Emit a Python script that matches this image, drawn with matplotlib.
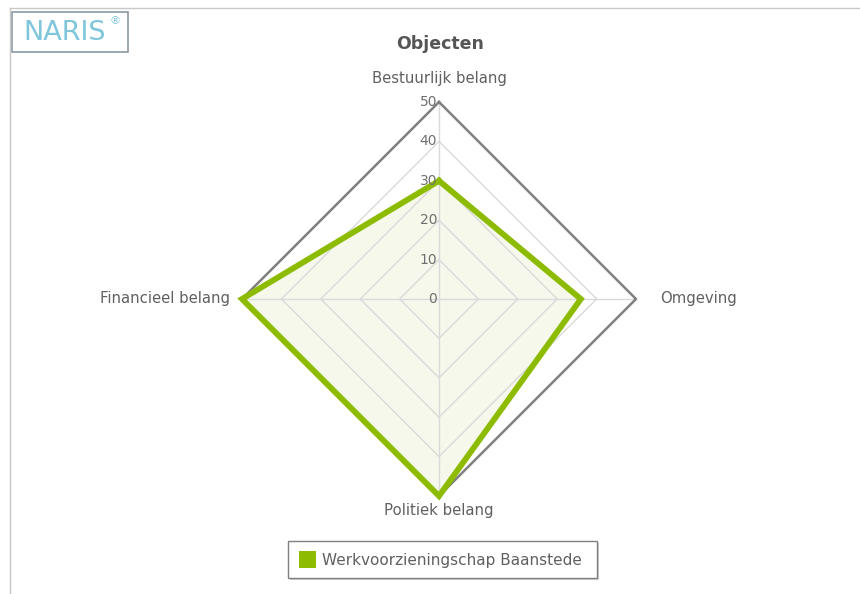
import numpy as np
import matplotlib
matplotlib.use("Agg")
import matplotlib.pyplot as plt
from matplotlib.patches import Rectangle
from matplotlib.lines import Line2D

# data
categories = ["Bestuurlijk belang", "Omgeving", "Politiek belang", "Financieel belang"]
values = [30, 36, 50, 50]
series_name = "Werkvoorzieningschap Baanstede"
ticks = [0, 10, 20, 30, 40, 50]
title = "Objecten"

W, H = 860, 594
fig = plt.figure(figsize=(W / 100, H / 100), dpi=100)
fig.patch.set_facecolor("white")

# outer frame lines (top and left)
fig.add_artist(Line2D([10 / W, 1], [1 - 8 / H, 1 - 8 / H], color="#c8c8c8", lw=1))
fig.add_artist(Line2D([10 / W, 10 / W], [0, 1 - 8 / H], color="#c8c8c8", lw=1))

# logo
fig.add_artist(Rectangle((12 / W, 1 - 52 / H), 116 / W, 40 / H, fill=False,
                         edgecolor="#8a9aa4", lw=1.2))
fig.text(23 / W, 1 - 33 / H, "NARIS", color="#7fc6dc", fontsize=19.5,
         va="center", ha="left")
fig.text(109 / W, 1 - 21 / H, "®", color="#7fc6dc", fontsize=8,
         va="center", ha="left")

# radar axes: centre at (439, 299) px, radius 197 px for 50
cx, cy, rpx = 439, 299, 197
half = 250
ax = fig.add_axes([(cx - half) / W, (H - cy - half) / H, 2 * half / W, 2 * half / H])
lim = 50 * half / rpx
ax.set_xlim(-lim, lim)
ax.set_ylim(-lim, lim)
ax.axis("off")

n = len(categories)
angles = np.pi / 2 - np.arange(n) * 2 * np.pi / n

def ring(r):
    xs = np.append(r * np.cos(angles), r * np.cos(angles[0]))
    ys = np.append(r * np.sin(angles), r * np.sin(angles[0]))
    return xs, ys

# series fill
vals = np.array(values, dtype=float)
sx = np.append(vals * np.cos(angles), vals[0] * np.cos(angles[0]))
sy = np.append(vals * np.sin(angles), vals[0] * np.sin(angles[0]))
ax.fill(sx, sy, color="#eef3dc", alpha=0.55, zorder=1, lw=0)

# grid
for t in ticks[1:-1]:
    gx, gy = ring(t)
    ax.plot(gx, gy, color="#dadada", lw=1, zorder=2)
for a in angles:
    ax.plot([0, ticks[-1] * np.cos(a)], [0, ticks[-1] * np.sin(a)],
            color="#dadada", lw=1, zorder=2)
gx, gy = ring(ticks[-1])
ax.plot(gx, gy, color="#808080", lw=1.8, zorder=3)

# series line
ax.plot(sx, sy, color="#8cbb00", lw=4.2, zorder=4, solid_joinstyle="miter")

# tick labels on the top axis
for t in ticks:
    ax.text(-0.5, t, str(t), ha="right", va="center", fontsize=10,
            color="#707070", zorder=5)

# category labels
for c, a in zip(categories, angles):
    ca, sa = np.cos(a), np.sin(a)
    if ca > 0.5:
        ax.text(ticks[-1] + 6, 0, c, ha="left", va="center", fontsize=10.7, color="#606060")
    elif ca < -0.5:
        ax.text(-ticks[-1] - 3, 0, c, ha="right", va="center", fontsize=10.7, color="#606060")
    elif sa > 0:
        ax.text(0, ticks[-1] + 5.9, c, ha="center", va="center", fontsize=10.7, color="#606060")
    else:
        ax.text(0, -ticks[-1] - 3.8, c, ha="center", va="center", fontsize=10.7, color="#606060")

fig.text(cx / W + 0.001, 1 - 44 / H, title, ha="center", va="center", fontsize=12.5,
         fontweight="bold", color="#555555")

# legend box
fig.add_artist(Rectangle((290 / W, 1 - 580 / H), 309 / W, 37 / H,
                         facecolor="#d0d0d0", edgecolor="none", lw=0))
fig.add_artist(Rectangle((288 / W, 1 - 578 / H), 309 / W, 37 / H,
                         facecolor="white", edgecolor="#808080", lw=1))
fig.add_artist(Rectangle((299 / W, 1 - 568 / H), 17 / W, 17 / H,
                         facecolor="#8cbb00", edgecolor="none"))
fig.text(322 / W, 1 - 560 / H, series_name, ha="left", va="center",
         fontsize=11, color="#606060")

fig.savefig("out.png", dpi=100)
